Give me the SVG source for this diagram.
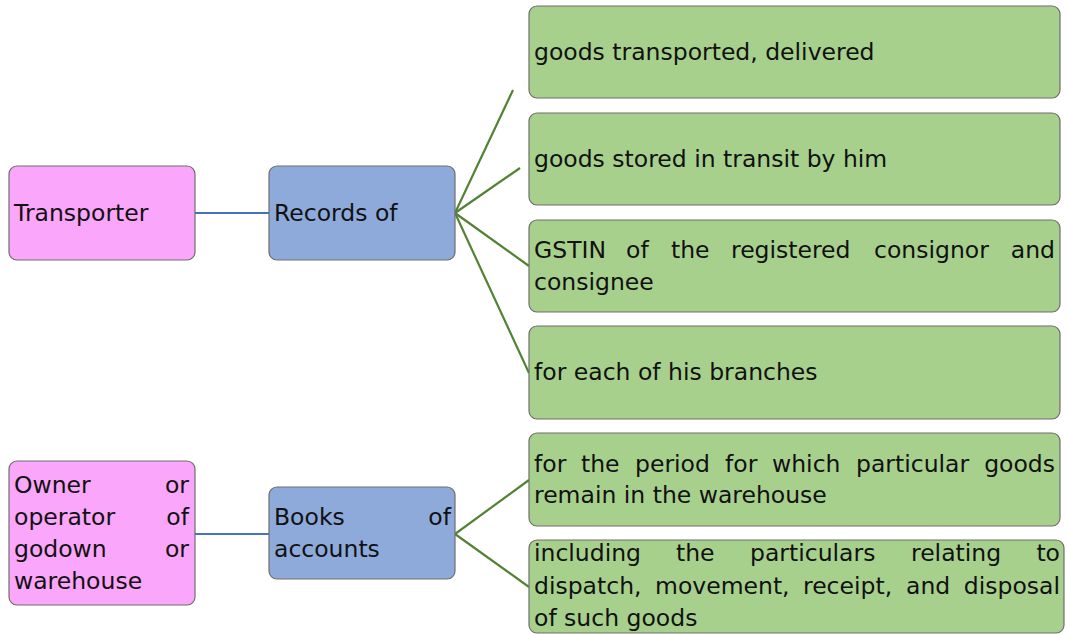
<svg xmlns="http://www.w3.org/2000/svg" width="1067" height="634" viewBox="0 0 1067 634">
<style>
  .pink{fill:#faa6fa;stroke:#6e6e6e;stroke-width:1.2}
  .blue{fill:#8eaadb;stroke:#6e6e6e;stroke-width:1.2}
  .green{fill:#a8d08d;stroke:#6e6e6e;stroke-width:1.2}
  text{font-family:"DejaVu Sans","Open Sans",sans-serif;font-size:23.5px;fill:#111}
  .e{text-anchor:end}
  .cb{stroke:#4472c4;stroke-width:2.2;fill:none}
  .cg{stroke:#548235;stroke-width:2.2;fill:none}
</style>
<rect width="1067" height="634" fill="#ffffff"/>
<g id="connectors">
  <line class="cb" x1="195" y1="213" x2="269" y2="213"/>
  <line class="cg" x1="455" y1="213" x2="513" y2="90"/>
  <line class="cg" x1="455" y1="213" x2="520" y2="168"/>
  <line class="cg" x1="455" y1="213" x2="529" y2="266"/>
  <line class="cg" x1="455" y1="213" x2="529" y2="373"/>
  <line class="cb" x1="195" y1="534" x2="269" y2="534"/>
  <line class="cg" x1="455" y1="534" x2="529" y2="480"/>
  <line class="cg" x1="455" y1="534" x2="529" y2="587"/>
</g>
<g id="transporter">
  <rect class="pink" x="9" y="166" width="186" height="94" rx="8"/>
  <text x="14" y="221">Transporter</text>
</g>
<g id="records">
  <rect class="blue" x="269" y="166" width="186" height="94" rx="8"/>
  <text x="274" y="221">Records of</text>
</g>
<g id="r1">
  <rect class="green" x="529" y="6" width="531" height="92" rx="8"/>
  <text x="534" y="60">goods transported, delivered</text>
</g>
<g id="r2">
  <rect class="green" x="529" y="113" width="531" height="92" rx="8"/>
  <text x="534" y="167">goods stored in transit by him</text>
</g>
<g id="r3">
  <rect class="green" x="529" y="220" width="531" height="92" rx="8"/>
  <text y="258"><tspan x="534">GSTIN</tspan><tspan x="626">of</tspan><tspan x="671">the</tspan><tspan x="731">registered</tspan><tspan x="874">consignor</tspan></text>
  <text class="e" x="1055" y="258">and</text>
  <text x="534" y="290">consignee</text>
</g>
<g id="r4">
  <rect class="green" x="529" y="326" width="531" height="93" rx="8"/>
  <text x="534" y="380">for each of his branches</text>
</g>
<g id="owner">
  <rect class="pink" x="9" y="461" width="186" height="144" rx="8"/>
  <text x="14" y="493">Owner</text><text class="e" x="189" y="493">or</text>
  <text x="14" y="525">operator</text><text class="e" x="189" y="525">of</text>
  <text x="14" y="557">godown</text><text class="e" x="189" y="557">or</text>
  <text x="14" y="589">warehouse</text>
</g>
<g id="books">
  <rect class="blue" x="269" y="487" width="186" height="92" rx="8"/>
  <text x="274" y="525">Books</text><text class="e" x="451" y="525">of</text>
  <text x="274" y="557">accounts</text>
</g>
<g id="b1">
  <rect class="green" x="529" y="433" width="531" height="93" rx="8"/>
  <text y="472"><tspan x="534">for</tspan><tspan x="581">the</tspan><tspan x="635">period</tspan><tspan x="725">for</tspan><tspan x="772">which</tspan><tspan x="856">particular</tspan></text>
  <text class="e" x="1055" y="472">goods</text>
  <text x="534" y="503">remain in the warehouse</text>
</g>
<g id="b2">
  <rect class="green" x="529" y="540" width="535" height="93" rx="8"/>
  <text y="561"><tspan x="534">including</tspan><tspan x="676">the</tspan><tspan x="750">particulars</tspan><tspan x="911">relating</tspan></text>
  <text class="e" x="1060" y="561">to</text>
  <text y="594"><tspan x="534">dispatch,</tspan><tspan x="655">movement,</tspan><tspan x="803">receipt,</tspan><tspan x="906">and</tspan></text>
  <text class="e" x="1060" y="594">disposal</text>
  <text x="534" y="626">of such goods</text>
</g>
</svg>
